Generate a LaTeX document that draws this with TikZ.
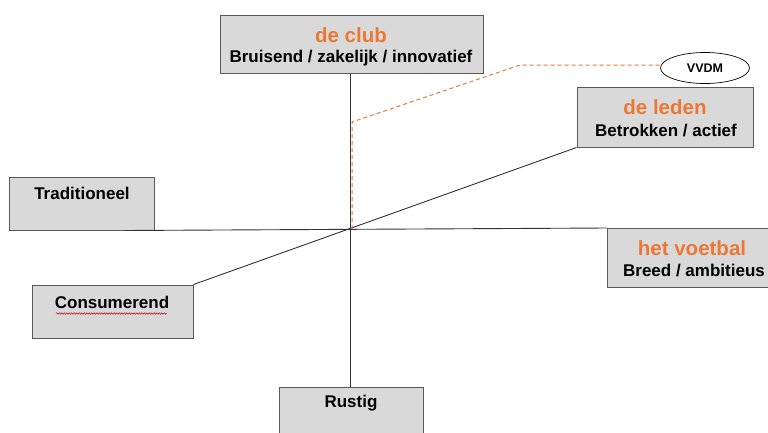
\documentclass[tikz,border=0pt]{standalone}
\usepackage{fontspec}
\setmainfont{Liberation Sans}
\usetikzlibrary{decorations.pathmorphing,shapes.geometric}
\definecolor{boxfill}{HTML}{D9D9D9}
\definecolor{boxline}{HTML}{5A5A5A}
\definecolor{accent}{HTML}{EE7733}
\definecolor{axis}{HTML}{333333}
\begin{document}
\begin{tikzpicture}[x=1pt,y=-1pt,
  box/.style={draw=boxline, line width=1pt, fill=boxfill, rectangle, inner sep=0pt},
  ttl/.style={text=accent, inner sep=0pt, font=\fontsize{20.5}{24}\selectfont\bfseries},
  sub/.style={inner sep=0pt, font=\fontsize{17}{20}\selectfont\bfseries},
  axisline/.style={draw=axis, line width=0.9pt},
  dashline/.style={draw=accent, line width=1pt, dashed, dash pattern=on 4pt off 3pt}]
\useasboundingbox (0,0) rectangle (768,432);
\clip (0,0) rectangle (768,432);
% boxes
\node[box, minimum width=263pt, minimum height=58pt] (club) at (351.5,44) {};
\node[box, minimum width=176pt, minimum height=60pt] (leden) at (665,117) {};
\node[box, minimum width=145pt, minimum height=53pt] (trad) at (81.5,203.5) {};
\node[box, minimum width=173pt, minimum height=59pt] (voetbal) at (693.5,257.5) {};
\node[box, minimum width=161pt, minimum height=53pt] (cons) at (112.5,311.5) {};
\node[box, minimum width=144pt, minimum height=58pt] (rustig) at (351,416) {};
\node[draw=black, line width=0.7pt, fill=white, ellipse, minimum width=89pt, minimum height=31pt, inner sep=0pt,
      font=\fontsize{12.5}{14}\selectfont\bfseries] (vvdm) at (705,68) {VVDM};
% texts
\node[ttl] (clubT) at (351,35) {de club};
\node[sub] (clubS) at (351,58) {Bruisend / zakelijk / innovatief};
\node[ttl] (ledenT) at (665,107) {de leden};
\node[sub] (ledenS) at (666,131) {Betrokken / actief};
\node[ttl] (voetbalT) at (692,248) {het voetbal};
\node[sub] (voetbalS) at (694,271) {Breed / ambitieus};
\node[sub] (tradT) at (82,193) {Traditioneel};
\node[sub] (consT) at (112,302) {Consumerend};
\node[sub] (rustigT) at (351,403) {Rustig};
% coordinates
\coordinate (hL) at (124,230.5);
\coordinate (hR) at (607,228);
\coordinate (o) at (352,229);
\coordinate (d1) at (352,122);
\coordinate (d2) at (520,65);
\coordinate (wl) at (56,313.5);
\coordinate (wr) at (167,313.5);
% axes
\draw[axisline] (club.south -| 350.5,0) -- (rustig.north -| 350.5,0);
\draw[axisline] (hL) -- (hR);
\draw[axisline] (cons.north east) -- (leden.south west);
% dashed orange connector
\draw[dashline] (o) -- (d1) -- (d2) -- (d2 -| vvdm.west);
% spell-check underline
\draw[red!80!black, line width=0.5pt, decorate, decoration={snake, amplitude=0.7pt, segment length=2.5pt}] (wl) -- (wr);
\end{tikzpicture}
\end{document}
